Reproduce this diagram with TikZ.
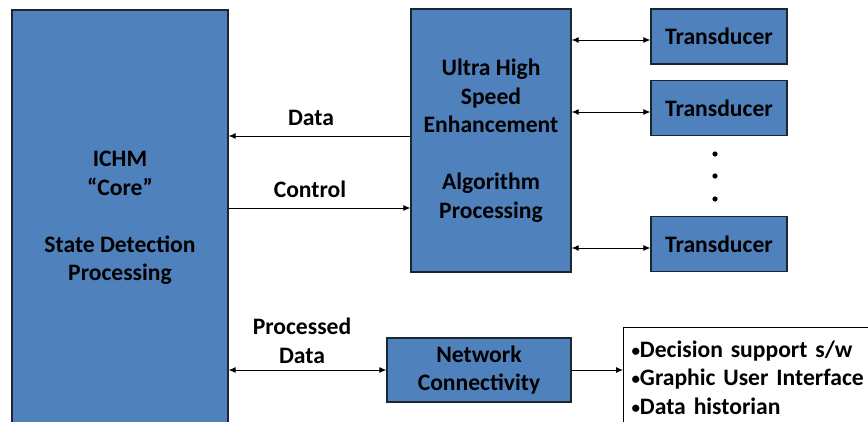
\documentclass[tikz,border=0pt]{standalone}
\usepackage{fontspec}
\setmainfont{Carlito}
\usetikzlibrary{arrows.meta}
\definecolor{ichm_blue}{HTML}{4F81BD}
\definecolor{ichm_edge}{HTML}{1C2630}
\newcommand\blockfont{\fontsize{23.6}{28.5}\selectfont\bfseries}
\newcommand\bul{\raisebox{1pt}{\fontsize{17}{17}\selectfont•}}

\tikzset{
  block/.style={draw=ichm_edge, line width=1.3pt, fill=ichm_blue, align=center, font=\blockfont, inner sep=0pt},
  tag/.style={font=\blockfont, align=center, inner sep=0pt},
  link/.style={line width=0.9pt, -{Latex[length=7pt,width=6pt]}},
  bilink/.style={line width=0.9pt, {Latex[length=7pt,width=6pt]}-{Latex[length=7pt,width=6pt]}}
}

\begin{document}
\begin{tikzpicture}[x=1pt, y=-1pt]
    % Canvas in pixel units, y going down
    \useasboundingbox (0,0) rectangle (868,421);
    \clip (0,0) rectangle (868,421);
    \fill[white] (0,0) rectangle (868,421);

    % Main processing blocks
    \node[block, minimum width=216, minimum height=416] (core) at (120,218)
      {ICHM\\“Core”\\[28.5pt]State Detection\\Processing};
    \node[block, minimum width=160, minimum height=263] (ultra) at (491,140.5)
      {Ultra High\\Speed\\Enhancement\\[28.5pt]Algorithm\\Processing};
    \node[block, minimum width=184, minimum height=64] (net) at (479,370)
      {Network\\Connectivity};

    % Transducers
    \node[block, minimum width=136, minimum height=55] (t1) at (719,36.5) {Transducer};
    \node[block, minimum width=136, minimum height=55] (t2) at (719,108) {Transducer};
    \node[block, minimum width=136, minimum height=55] (t3) at (719,244) {Transducer};
    \foreach \yy in {154,176,199} {
      \fill (715,\yy) circle (2.6);
    }

    % Output list (runs off the page)
    \node[draw=black, line width=1pt, fill=white, anchor=north west, align=left,
          text width=250, inner xsep=8pt, inner ysep=0pt, minimum height=100,
          font=\blockfont] (list) at (623,327)
      {\bul Decision support s/w\\\bul Graphic User Interface\\\bul Data historian};

    % Connectors
    \draw[link] (ultra.west |- 0,136) -- (core.east |- 0,136);
    \draw[link] (core.east |- 0,208) -- (ultra.west |- 0,208);
    \draw[bilink] (core.east |- net.west) -- (net.west);
    \draw[link] (net.east) -- (net.east -| list.west);
    \foreach \t/\yy in {t1/40, t2/112, t3/248} {
      \draw[bilink] (ultra.east |- 0,\yy) -- (\t.west |- 0,\yy);
    }

    % Connector labels
    \node[tag] (datatag) at (311,118) {Data};
    \node[tag] (ctrltag) at (310,189) {Control};
    \node[tag] (proctag) at (302,341) {Processed\\Data};
\end{tikzpicture}
\end{document}
